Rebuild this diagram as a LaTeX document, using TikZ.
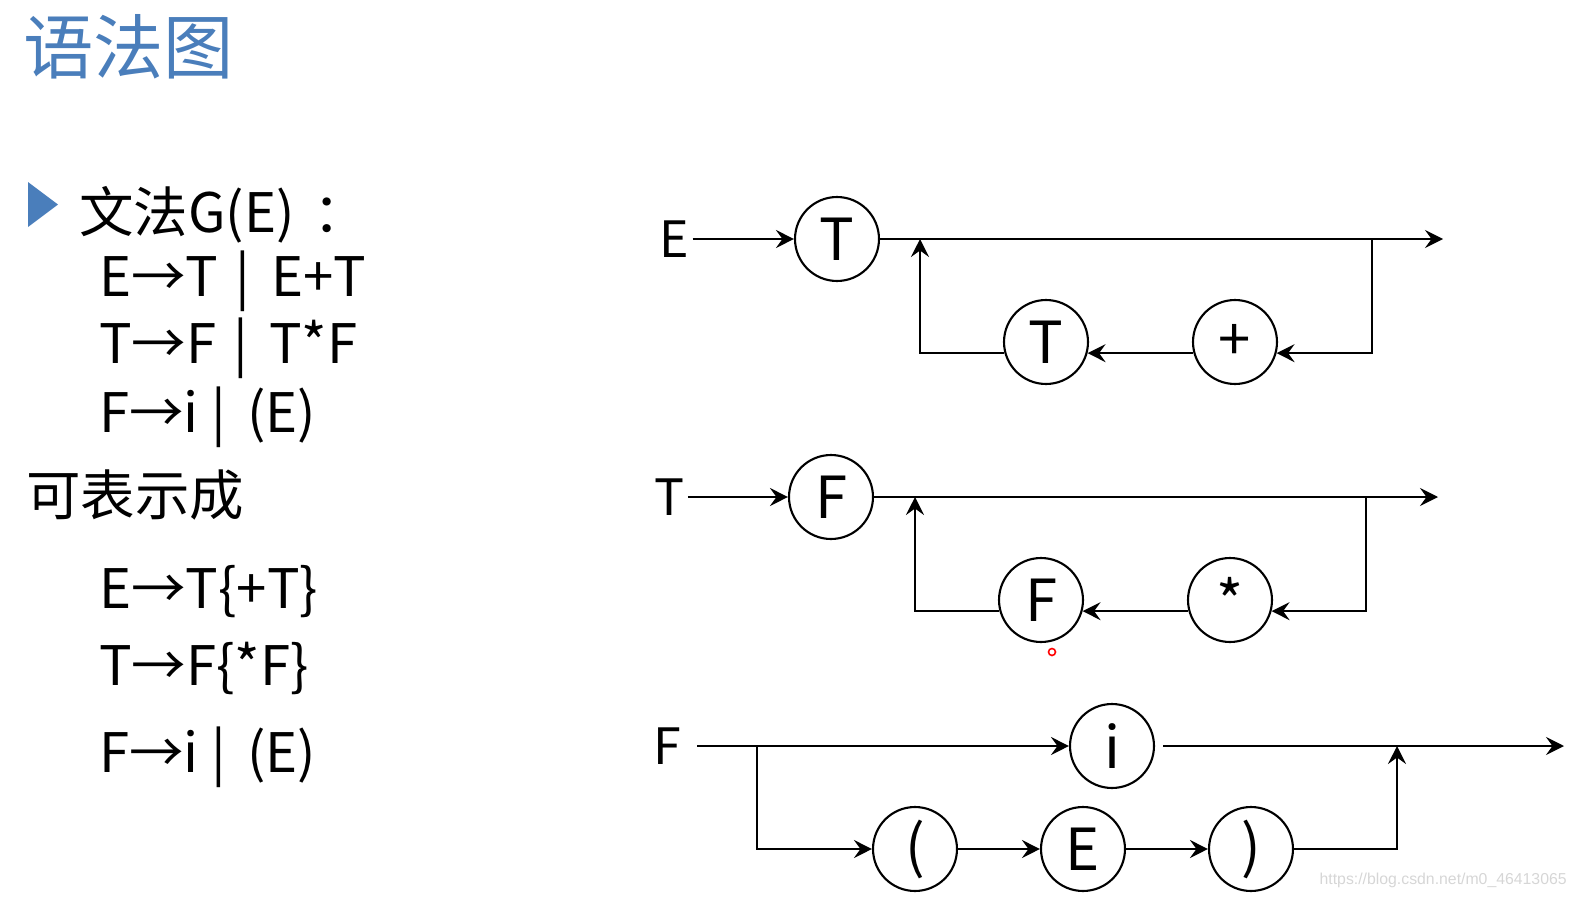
\documentclass[tikz,border=0pt]{standalone}
\usepackage{fontspec}
\setmainfont{Noto Sans CJK SC}
\newfontfamily\urlfont{Liberation Sans}
\usetikzlibrary{arrows.meta,positioning}
\definecolor{titAzul}{HTML}{4A7EBB}
\definecolor{marcaGris}{HTML}{D6D6D6}

\begin{document}
\begin{tikzpicture}[x=0.02cm, y=-0.02cm,
      sym/.style={circle, draw, line width=1.2pt, minimum size=1.68cm, inner sep=0pt,
                  font=\fontsize{33}{33}\selectfont},
      lab/.style={inner sep=2pt, font=\fontsize{28.5}{28.5}\selectfont},
      txt/.style={anchor=base west, inner sep=0pt, font=\fontsize{31}{37}\selectfont},
      seg/.style={line width=1.2pt},
      flow/.style={seg, -{Stealth[length=3.6mm, width=3.6mm, inset=1.3mm]}}]
    \useasboundingbox (0,0) rectangle (1576,899);
    % titulo
    \node[txt, text=titAzul, font=\fontsize{40}{48}\selectfont] (tit) at (23,73) {语法图};
    % gramatica
    \fill[titAzul] (28,182) -- (58,204.5) -- (28,227) -- cycle;
    \node[txt] (g0) at (79,232) {文法G(E)\hspace{0.35em}：};
    \node[txt] (g1) at (99,296) {E→T\hspace{0.08em} | \,E+T};
    \node[txt] (g2) at (99,363) {T→F\hspace{0.08em} | \,T*F};
    \node[txt] (g3) at (99,432) {F→i | \,(E)};
    \node[txt] (r0) at (26,515) {可表示成};
    \node[txt] (r1) at (99,608) {E→T\{+T\}};
    \node[txt] (r2) at (99,685) {T→F\{*F\}};
    \node[txt] (r3) at (99,772) {F→i | \,(E)};
    % E -> T {+T}
    \node[lab] (labE) at (674,239) {E};
    \node[sym] (t1) at (837,239) {T};
    \node[sym] (t2) at (1046,342) {T};
    \node[sym] (pl) at (1235,342) {+};
    \coordinate (j1) at (920,239);
    \coordinate (k1) at (1372,239);
    \coordinate (e1) at (1443,239);
    \draw[flow] (labE) -- (t1);
    \draw[flow] (t1) -- (e1);
    \draw[flow] (k1) |- (pl.-15);
    \draw[flow] (pl.195) -- (t2.-15);
    \draw[flow] (t2.195) -| (j1);
    % T -> F {*F}
    \node[lab] (labT) at (669,497) {T};
    \node[sym] (f1) at (831,497) {F};
    \node[sym] (f2) at (1041,600) {F};
    \node[sym] (ml) at (1230,600) {*};
    \coordinate (j2) at (915,497);
    \coordinate (k2) at (1366,497);
    \coordinate (e2) at (1438,497);
    \draw[flow] (labT) -- (f1);
    \draw[flow] (f1) -- (e2);
    \draw[flow] (k2) |- (ml.-15);
    \draw[flow] (ml.195) -- (f2.-15);
    \draw[flow] (f2.195) -| (j2);
    \draw[red, line width=0.9pt] (1052,652) circle[radius=0.07cm];
    % F -> i | (E)
    \node[lab] (labF) at (667,746) {F};
    \node[sym] (ii) at (1112,746) {i};
    \node[sym] (lp) at (915,849) {(};
    \node[sym] (ee) at (1083,849) {E};
    \node[sym] (rp) at (1251,849) {)};
    \coordinate (b3) at (757,746);
    \coordinate (j3) at (1397,746);
    \coordinate (e3) at (1564,746);
    \draw[flow, shorten <=0.25cm] (labF) -- (ii);
    \draw[flow] (b3) |- (lp);
    \draw[flow] (lp) -- (ee);
    \draw[flow] (ee) -- (rp);
    \draw[flow] (rp) -| (j3);
    \draw[flow, shorten <=0.16cm] (ii) -- (e3);
    % marca de agua
    \node[anchor=base east, inner sep=0pt, text=marcaGris, font=\urlfont\fontsize{9}{9}\selectfont]
      (url) at (1567,884) {https://blog.csdn.net/m0\_46413065};
  \end{tikzpicture}
\end{document}
